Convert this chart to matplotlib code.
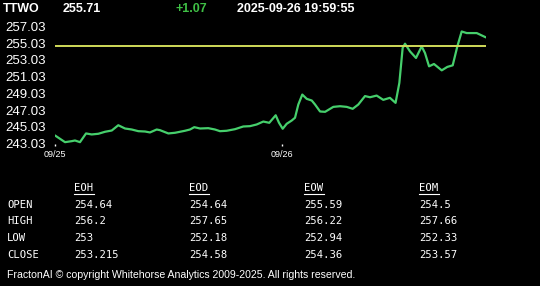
import matplotlib
matplotlib.use("Agg")
import matplotlib.pyplot as plt
from matplotlib.lines import Line2D

# Quote header
SYMBOL = "TTWO"
LAST = "255.71"
CHANGE = "+1.07"
STAMP = "2025-09-26 19:59:55"
PREV_CLOSE = 254.64

# Price trace (hours since start of window, price)
hours = [0.0, 1.06, 1.77, 2.11, 2.64, 3.28, 3.88, 4.58, 5.29, 6.0,
         6.69, 7.4, 8.11, 8.81, 9.52, 10.04, 10.75, 11.1, 11.98, 12.69,
         13.74, 14.27, 14.72, 15.33, 16.2, 16.91, 17.44, 18.15, 19.03, 19.9,
         20.61, 21.32, 22.02, 22.65, 23.33, 23.68, 24.07, 24.49, 25.02, 25.37,
         25.72, 26.14, 26.61, 27.14, 27.49, 28.02, 28.55, 29.42, 30.13, 30.84,
         31.47, 32.06, 32.77, 33.3, 34.0, 34.7, 35.4, 36.0, 36.4, 36.75,
         37.0, 37.53, 38.16, 38.76, 39.11, 39.54, 40.06, 40.88, 41.47, 42.04,
         42.53, 42.99, 43.52, 44.58, 45.56]
price = [244.02, 243.22, 243.34, 243.42, 243.22, 244.26, 244.14, 244.22, 244.46, 244.61,
         245.24, 244.85, 244.73, 244.53, 244.49, 244.38, 244.73, 244.65, 244.26, 244.34,
         244.58, 244.73, 245.01, 244.85, 244.89, 244.73, 244.53, 244.58, 244.77, 245.09,
         245.13, 245.33, 245.68, 245.53, 246.43, 245.53, 244.82, 245.41, 245.80, 246.13,
         247.71, 248.90, 248.39, 248.19, 247.71, 246.88, 246.84, 247.43, 247.51, 247.43,
         247.20, 247.71, 248.72, 248.58, 248.78, 248.27, 248.51, 247.91, 250.29, 254.46,
         254.97, 254.05, 253.27, 254.65, 253.86, 252.27, 252.55, 251.79, 252.20, 252.39,
         254.65, 256.43, 256.24, 256.24, 255.72]

y_ticks = [243.03, 245.03, 247.03, 249.03, 251.03, 253.03, 255.03, 257.03]
date_ticks = [0, 24]
date_labels = ["09/25", "09/26"]

# Summary table
periods = ["EOH", "EOD", "EOW", "EOM"]
row_names = ["OPEN", "HIGH", "LOW", "CLOSE"]
open_vals = ["254.64", "254.64", "255.59", "254.5"]
high_vals = ["256.2", "257.65", "256.22", "257.66"]
low_vals = ["253", "252.18", "252.94", "252.33"]
close_vals = ["253.215", "254.58", "254.36", "253.57"]
FOOTER = "FractonAI \u00a9 copyright Whitehorse Analytics 2009-2025. All rights reserved."

W, H = 540, 286
fig = plt.figure(figsize=(W / 100, H / 100), dpi=100, facecolor="black")

def fx(px):
    return px / W

def fy(py):
    return 1 - py / H

ax = fig.add_axes([fx(55), fy(144), fx(486) - fx(55), fy(20) - fy(144)])
ax.set_facecolor("black")
ax.plot(hours, price, color="#46cf6c", lw=1.6, solid_capstyle="round")
ax.axhline(PREV_CLOSE, color="#d0da5a", lw=1.4)
ax.set_xlim(hours[0], hours[-1])
ax.set_ylim(243.0, 257.8)
ax.set_yticks(y_ticks)
ax.set_yticklabels([f"{v:.2f}" for v in y_ticks])
ax.set_xticks(date_ticks)
ax.set_xticklabels(date_labels)
for s in ax.spines.values():
    s.set_visible(False)
ax.tick_params(axis="y", length=0, pad=6.5, colors="white", labelsize=9.5)
ax.tick_params(axis="x", length=1.5, width=1, pad=3, colors="white", labelsize=6.5)
for lab in ax.get_yticklabels() + ax.get_xticklabels():
    lab.set_fontfamily("Liberation Sans")

# Header line
hdr = dict(fontfamily="Liberation Sans", fontweight="bold", fontsize=9, va="center")
fig.text(fx(3), fy(8.5), SYMBOL, color="white", **hdr)
fig.text(fx(63), fy(8.5), LAST, color="white", **hdr)
fig.text(fx(176), fy(8.5), CHANGE, color="#3fbf45", **hdr)
fig.text(fx(237), fy(8.5), STAMP, color="white", **hdr)

# Table
mono = dict(fontfamily="DejaVu Sans Mono", fontsize=7.6, color="white", va="center")
col_x = [74, 189, 304, 419]
row_y = [204.5, 221, 238, 255]
for x, name in zip(col_x, periods):
    fig.text(fx(x), fy(188), name, **mono)
    fig.add_artist(Line2D([fx(x), fx(x + 20)], [fy(193.5), fy(193.5)],
                          color="white", lw=0.8, transform=fig.transFigure))
rows = [open_vals, high_vals, low_vals, close_vals]
for y, name, vals in zip(row_y, row_names, rows):
    fig.text(fx(7), fy(y), name, **mono)
    for x, v in zip(col_x, vals):
        fig.text(fx(x), fy(y), v, **mono)

fig.text(fx(7), fy(275), FOOTER, color="white", fontsize=7.6,
         fontfamily="Liberation Sans", va="center")

fig.savefig("out.png", dpi=100, facecolor="black")
